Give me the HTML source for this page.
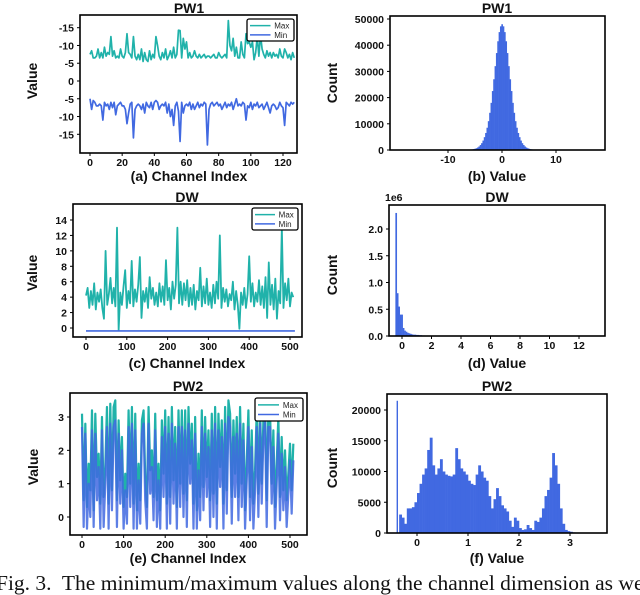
<!DOCTYPE html>
<html><head><meta charset="utf-8"><style>
html,body{margin:0;padding:0;background:#fff;width:640px;height:595px;overflow:hidden}
svg{display:block}
text{font-family:"Liberation Sans",sans-serif}
.tk{font-size:10.5px;font-weight:bold;fill:#111}
.lb{font-size:14px;font-weight:bold;fill:#111}
.cap{font-family:"Liberation Serif",serif;font-size:21.5px;fill:#111}
</style></head><body>
<svg id="fig" width="640" height="595" viewBox="0 0 640 595"></svg>
<script>
// PW1 line data
const pw1Max=[7.5,8.5,6.5,6.5,7,9,6.5,8,6.5,9.5, 7,8,7.5,12.5,7,8.5,6.5,7,6.5,9, 7,6.5,8,13.3,8,7.5,6.5,12.5,7,6, 7.5,6,9,5.5,8,6,5.5,8.5,6,7.5, 6.5,12.5,10,7,6,8,6.5,9,6,7, 8.5,6.5,9.5,6.5,7.5,14.3,14.2,6.5,12,9, 11,6.5,8,6.5,7,8.5,7,6.5,7.5,6.5, 7,7.5,6.5,7,7,6.5,7,7.5,6.5,6.5, 8,7,6.5,7,7.5,6.5,17,10,8.5,12, 7,9.5,6.5,6.5,11,7.5,6.5,13.3,10.5,11, 9.5,11,6,8,12.5,7,13,9,7.5,6.5, 8.5,7,8,6.5,8,7,7.5,6.5,9,7, 6.5,9,8,6.5,7.5,6,8,6.5];
const pw1Min=[-5,-8,-5.5,-6,-7,-7,-6.5,-7,-11,-6, -7,-6.5,-8,-6,-7.5,-6,-9.5,-7,-6.5,-6, -7,-7,-8,-12,-9,-6.5,-6,-16,-8,-7, -6.5,-7,-8,-6.5,-9,-6,-7,-7.5,-6,-8, -6,-5.5,-6,-8,-7,-6.5,-7,-6,-9,-6.5, -10,-8,-12.5,-7,-6,-8.5,-17,-6,-9,-7, -6.5,-7,-6,-8,-6.5,-8,-7,-6,-7.5,-6.5, -7,-6,-6.5,-18,-8,-6.5,-6,-7,-6.5,-6, -7,-6.5,-8,-7,-6,-7.5,-6.5,-7,-6,-8, -6.5,-5,-7,-6.5,-7,-6,-6.5,-11,-7,-7.5, -6,-8,-6.5,-7,-6,-7.5,-7,-6.5,-8,-7, -6,-7.5,-9,-7,-6.5,-7,-8,-7.5,-6,-7, -7.5,-12.5,-6,-6.5,-7,-6,-6.5,-6];
const pw1YTicks=[15,10,5,0,-5,-10,-15];
const pw1YTickLabels=["-15","-10","-5","0","-5","-10","-15"];
const pw1XTicks=[0,20,40,60,80,100,120];
// PW1 histogram (bin centers step 0.25, counts)
const pw1HistBins=[-8,-7.75,-7.5,-7.25,-7,-6.75,-6.5,-6.25,-6,-5.75,-5.5,-5.25,-5,-4.75,-4.5,-4.25,-4,-3.75,-3.5,-3.25,-3,-2.75,-2.5,-2.25,-2,-1.75,-1.5,-1.25,-1,-0.75,-0.5,-0.25,0,0.25,0.5,0.75,1,1.25,1.5,1.75,2,2.25,2.5,2.75,3,3.25,3.5,3.75,4,4.25,4.5,4.75,5,5.25,5.5,5.75,6,6.25,6.5,6.75,7,7.25,7.5,7.75,8];
const pw1HistCounts=[7,10,14,20,28,40,60,85,120,170,240,340,480,680,950,1350,1900,2600,3600,4900,6500,8500,11000,14200,18000,22500,27000,32000,37000,41500,45000,47200,48000,47200,45000,41500,37000,32000,27000,22500,18000,14200,11000,8500,6500,4900,3600,2600,1900,1350,950,680,480,340,240,170,120,85,60,40,28,20,14,10,7];
const pw1HistYTicks=[0,10000,20000,30000,40000,50000];
const pw1HistXTicks=[-10,0,10];
// DW line data (every 4th channel)
const dwMax=[4.2,5.2,2.6,4.8,3,5.8,2.4,4.6,3.4,5,2.6,1.2,10,3,4.4,6.5, 3.2,5.2,2.8,13,-0.3,4.6,3,5.4,7.5,2.6,4.8,3.2,8.7,2.8,5,3.4, 5.6,9.2,1.3,4.8,3.4,5.2,2.6,6.6,3.8,5.2,3,4.6,2.8,5.8,3.4,5.4, 3,8.8,3.6,5.2,2.4,6,3.8,5.6,13,3.2,6,3,5.8,3.6,6.2,2.8, 5.2,3,5.6,2.4,4.8,3.6,7.8,2.8,5.4,3.2,6.4,3,4.6,2.6,5.6,3.2, 6,3.8,12,2.6,5.2,3.4,5,2.8,4.4,3.6,6,2.4,4.8,3,-0.1,4.6, 3,5.2,2.6,4.4,9.3,3.4,5.8,2.8,4.6,3.4,6.2,3,5.4,2.6,6.6,1.3, 8.5,3,5.6,2.4,6.4,1.2,4.8,3.2,13,2.6,5.8,3.6,6.4,2.8,4.6,4];
const dwMin=[-0.38,-0.38,-0.38,-0.38,-0.38,-0.38,-0.38,-0.38,-0.38,-0.38,-0.38,-0.38,-0.38,-0.38,-0.38,-0.38,-0.38];
const dwYTicks=[0,2,4,6,8,10,12,14];
const dwXTicks=[0,100,200,300,400,500];
// DW histogram (bin left edges, counts in 1e6)
const dwHistBins=[-0.45,-0.35,-0.25,-0.15,-0.05,0.05,0.15,0.25,0.35,0.45,0.55,0.65,0.75,0.95,1.15,1.35,1.55,1.75];
const dwHistCounts=[2.3,0.8,0.55,0.4,0.4,0.15,0.1,0.08,0.06,0.05,0.04,0.03,0.025,0.02,0.015,0.01,0.008,0.005];
const dwHistYTicks=[0,0.5,1.0,1.5,2.0];
const dwHistXTicks=[0,2,4,6,8,10,12];
// PW2 line data (every 4th channel)
const pw2Max=[3.1,0.5,2.8,0.3,1.6,0.8,3.2,0.2,3.1,1.2,1.9,0.4,3,0.6,1.5,3.3, 0.4,3.4,0.8,3.3,3.5,0.5,2.9,1.1,2.4,0.3,1.3,0.6,3.2,1,3.3,0.4, 3.1,0.2,1.6,0.5,2.9,3.2,1.2,0.3,3.3,1.4,2,0.6,3.1,0.5,1.6,0.2, 2.9,1.3,3.2,0.4,3,0.6,3.3,1.1,2.7,0.3,3.2,1,3.2,0.7,3.2,0.5, 3.3,1.6,2.8,0.4,3,0.2,1.9,0.6,3.2,0.9,3,1.2,2.6,0.5,3.1,0.7, 3.3,0.4,3.1,1.5,2.9,0.4,3.3,0.8,3.5,3.1,0.6,2.9,1.3,3,0.6,3.3, 1,2.8,0.2,1.7,3.2,0.6,2.6,0.4,1.4,3.2,0.7,3.3,1,2.9,3.4,0.5, 3.2,3.2,1,2.6,0.3,1.6,3,0.6,2.4,0.8,2,0.5,1.3,2.2,0.8,2.2];
const pw2Min=[2.7,-0.3,2.5,-0.35,1,0,2.6,-0.3,2.5,0.5,1.5,-0.35,2.6,-0.3,1,2.7, -0.35,2.8,0.2,2.7,2.9,-0.3,2.5,0.4,2,-0.35,0.8,-0.2,2.7,0.3,2.8,-0.35, 2.6,-0.35,1.1,-0.2,2.5,2.8,0.5,-0.35,2.8,0.7,1.5,-0.1,2.6,-0.3,1.1,-0.35, 2.4,0.6,2.7,-0.35,2.5,-0.2,2.8,0.4,2.2,-0.35,2.7,0.3,2.7,0,2.6,-0.3, 2.8,1,2.3,-0.35,2.5,-0.35,1.4,-0.1,2.7,0.2,2.5,0.6,2.1,-0.3,2.6,0, 2.8,-0.35,2.6,0.9,2.4,-0.35,2.8,0.1,3,2.7,-0.2,2.4,0.6,2.5,-0.1,2.8, 0.3,2.3,-0.35,1.1,2.7,-0.1,2.1,-0.35,0.8,2.7,0,2.8,0.4,2.4,2.9,-0.3, 2.7,2.7,0.4,2.1,-0.35,1,2.5,-0.1,1.9,0.2,1.5,-0.3,0.7,1.7,0.1,1.7];
const pw2YTicks=[0,1,2,3];
const pw2XTicks=[0,100,200,300,400,500];
// PW2 histogram (bin left edges, counts)
const pw2HistBins=[-0.4,-0.35,-0.3,-0.25,-0.2,-0.15,-0.1,-0.05,0,0.05,0.1,0.15,0.2,0.25,0.3,0.35,0.4,0.45,0.5,0.55,0.6,0.65,0.7,0.75,0.8,0.85,0.9,0.95,1,1.05,1.1,1.15,1.2,1.25,1.3,1.35,1.4,1.45,1.5,1.55,1.6,1.65,1.7,1.75,1.8,1.85,1.9,1.95,2,2.05,2.1,2.15,2.2,2.25,2.3,2.35,2.4,2.45,2.5,2.55,2.6,2.65,2.7,2.75,2.8,2.85,2.9,2.95,3,3.05,3.1,3.2,3.3,3.4];
const pw2HistCounts=[21500,3000,2500,1500,4000,4000,4200,5000,6500,8000,9500,10500,13500,15500,11000,9500,10500,12000,10000,9500,9300,9200,9500,13800,12000,10500,10000,9500,8500,8000,7800,9500,11000,10000,9000,8500,6000,4000,5500,7300,6000,4500,4000,3500,2000,1000,2500,2000,800,500,600,1300,800,500,2000,1800,2500,4000,6000,7000,9000,13000,11000,8000,4000,1500,500,300,200,100,50,30,20,20];
const pw2HistYTicks=[0,5000,10000,15000,20000];
const pw2HistXTicks=[0,1,2,3];

const TEAL="#20b2aa", BLUE="#4169e1";
const svg=document.getElementById('fig');
const NS="http://www.w3.org/2000/svg";
function mk(tag,attrs,parent){const e=document.createElementNS(NS,tag);for(const k in attrs)e.setAttribute(k,attrs[k]);(parent||svg).appendChild(e);return e;}
function lin(d0,r0,d1,r1){return v=>r0+(v-d0)*(r1-r0)/(d1-d0);}

function axes(g,box,sx,sy,xt,xtl,yt,ytl){
  for(let i=0;i<xt.length;i++){const x=sx(xt[i]);
    const t=mk('line',{x1:x,x2:x,y1:box[3],y2:box[3]+3,stroke:'#000','stroke-width':1},g);
    
    
    const l=mk('text',{x:x,y:box[3]+13,'text-anchor':'middle',class:'tk'},g);l.textContent=xtl[i];
    
    }
  for(let i=0;i<yt.length;i++){const y=sy(yt[i]);
    const t=mk('line',{x1:box[0]-3,x2:box[0],y1:y,y2:y,stroke:'#000','stroke-width':1},g);
    
    
    const l=mk('text',{x:box[0]-6,y:y+4,'text-anchor':'end',class:'tk'},g);l.textContent=ytl[i];
    
    }
}
function frame(g,box){const r=mk('rect',{x:box[0],y:box[1],width:box[2]-box[0],height:box[3]-box[1],fill:'none',stroke:'#000','stroke-width':1.6},g);
  
  }
function labels(g,cx,ty,title,xl,xly,ylx,yly,yl){
  const t=mk('text',{x:cx,y:ty,'text-anchor':'middle',class:'lb'},g);t.textContent=title;
  
  
  const a=mk('text',{x:cx,y:xly,'text-anchor':'middle',class:'lb'},g);a.textContent=xl;
  
  
  const b=mk('text',{x:ylx,y:yly,'text-anchor':'middle',class:'lb',transform:`rotate(-90 ${ylx} ${yly})`},g);b.textContent=yl;
  
  
}
function line(g,vals,step,sx,sy,color,name,w,op){
  let d='';vals.forEach((v,i)=>{d+=(i?'L':'M')+sx(i*step).toFixed(2)+' '+sy(v).toFixed(2);});
  const p=mk('path',{d:d,fill:'none',stroke:color,'stroke-width':w,'stroke-opacity':op||1,'stroke-linejoin':'round'},g);
  
  
}
function legend(g,x,y,w,h){
  const r=mk('rect',{x:x,y:y,width:w,height:h,rx:2,fill:'#fff',stroke:'#000','stroke-width':1.3},g);
  
  
  [["Max",TEAL],["Min",BLUE]].forEach((e,i)=>{const yy=y+h*(0.3+0.42*i);
    const l=mk('line',{x1:x+3,x2:x+w*0.5,y1:yy,y2:yy,stroke:e[1],'stroke-width':1.5},g);
    
    
    const t=mk('text',{x:x+w*0.58,y:yy+3,'font-size':'8px',fill:'#222'},g);t.textContent=e[0];
    
    });
}

// (a)
{const box=[80,15,297,153];const g=mk('g',{});
 const sx=lin(0,90,120,283), sy=lin(0,81,15,27.7);
 line(g,pw1Max,1,sx,sy,TEAL,'max-line',1.7);line(g,pw1Min,1,sx,sy,BLUE,'min-line',1.7);
 frame(g,box);axes(g,box,sx,sy,pw1XTicks,pw1XTicks.map(String),pw1YTicks,pw1YTickLabels);
 legend(g,247,19,47,22);labels(g,189,13,'PW1','(a) Channel Index',181,37,81,'Value');}
// (b)
{const box=[390,16,605,150];const g=mk('g',{});
 const sx=lin(0,502,10,556), sy=lin(0,150,50000,19);
 pw1HistBins.forEach((b,i)=>{const x0=sx(b-0.125),x1=sx(b+0.125);const r=mk('rect',{x:x0,y:sy(pw1HistCounts[i]),width:x1-x0+0.3,height:150-sy(pw1HistCounts[i]),fill:BLUE},g);
  
  });
 frame(g,box);axes(g,box,sx,sy,pw1HistXTicks,pw1HistXTicks.map(String),pw1HistYTicks,pw1HistYTicks.map(String));
 labels(g,497,13,'PW1','(b) Value',181,337,83,'Count');}
// (c)
{const box=[73,204,302,337];const g=mk('g',{});
 const sx=lin(0,86,500,290), sy=lin(0,328,14,220);
 line(g,dwMax,4,sx,sy,TEAL,'max-line',1.8);line(g,dwMin,32,sx,sy,BLUE,'min-line',1.6);
 frame(g,box);axes(g,box,sx,sy,dwXTicks,dwXTicks.map(String),dwYTicks,dwYTicks.map(String));
 legend(g,252,208,46,22);labels(g,187,202,'DW','(c) Channel Index',368,37,273,'Value');}
// (d)
{const box=[389,205,605,336];const g=mk('g',{});
 const sx=lin(0,402,12,579), sy=lin(0,336,2,229);
 dwHistBins.forEach((b,i)=>{const x0=sx(b),x1=sx(i+1<dwHistBins.length?dwHistBins[i+1]:b+0.2);const r=mk('rect',{x:x0,y:sy(dwHistCounts[i]),width:x1-x0+0.2,height:336-sy(dwHistCounts[i]),fill:BLUE},g);
  
  });
 frame(g,box);axes(g,box,sx,sy,dwHistXTicks,dwHistXTicks.map(String),dwHistYTicks,dwHistYTicks.map(v=>v.toFixed(1)));
 const e=mk('text',{x:385,y:201,class:'tk'},g);e.textContent='1e6';
 
 
 labels(g,497,202,'DW','(d) Value',368,337,275,'Count');}
// (e)
{const box=[70,393,307,535];const g=mk('g',{});
 const sx=lin(0,82,500,290), sy=lin(0,517,3,417);
 line(g,pw2Max,4,sx,sy,TEAL,'max-line',2.2);line(g,pw2Min,4,sx,sy,BLUE,'min-line',2.2,0.85);
 frame(g,box);axes(g,box,sx,sy,pw2XTicks,pw2XTicks.map(String),pw2YTicks,pw2YTicks.map(String));
 legend(g,255,398,48,23);labels(g,188,391,'PW2','(e) Channel Index',563,38,467,'Value');}
// (f)
{const box=[387,394,607,533];const g=mk('g',{});
 const sx=lin(0,417,3,570), sy=lin(0,533,20000,410);
 pw2HistBins.forEach((b,i)=>{const x0=sx(b),x1=sx(i+1<pw2HistBins.length?pw2HistBins[i+1]:b+0.1);const w=i===0?1.4:x1-x0+0.3;const r=mk('rect',{x:x0,y:sy(pw2HistCounts[i]),width:w,height:533-sy(pw2HistCounts[i]),fill:BLUE},g);
  
  });
 frame(g,box);axes(g,box,sx,sy,pw2HistXTicks,pw2HistXTicks.map(String),pw2HistYTicks,pw2HistYTicks.map(String));
 labels(g,497,391,'PW2','(f) Value',563,337,468,'Count');}
// caption
{const c=mk('text',{x:-4,y:590,class:'cap'});c.textContent='Fig. 3.  The minimum/maximum values along the channel dimension as we';
 
 
 c.style.whiteSpace='pre';}
</script>
</body></html>
